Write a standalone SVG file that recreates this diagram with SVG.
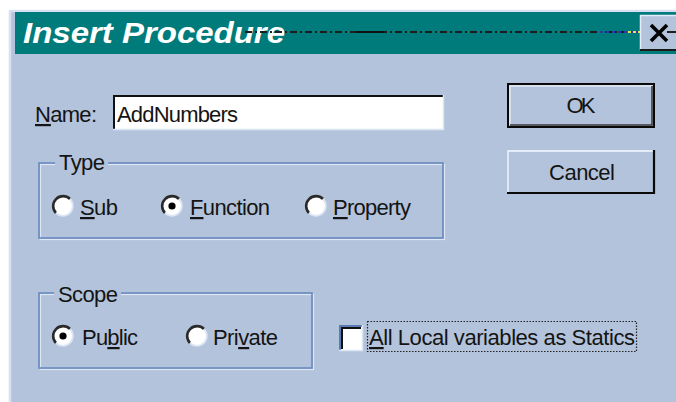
<svg xmlns="http://www.w3.org/2000/svg" xmlns:xlink="http://www.w3.org/1999/xlink" width="676" height="402" viewBox="0 0 676 402">
<style>
.lbl{font-family:"Liberation Sans",Arial,sans-serif;font-size:22px;fill:#141414}
.ul{text-decoration:underline}
.title{font-family:"Liberation Sans",Arial,sans-serif;font-size:30px;font-weight:bold;font-style:italic;fill:#ffffff}
.grp{fill:none;stroke:#6a89bf;stroke-width:1.6}
.grpl{fill:none;stroke:#dde7f5;stroke-width:1.2}
.face{fill:#b3c3db}
</style>
<defs>
<g id="radio">
<circle cx="0" cy="0" r="9.5" fill="#ffffff"/>
<path d="M -7 7 A 9.9 9.9 0 0 1 7 -7" fill="none" stroke="#2a2a2a" stroke-width="2.6"/>
<path d="M 7 -7 A 9.9 9.9 0 0 1 -7 7" fill="none" stroke="#dce6f4" stroke-width="1.8"/>
</g>
<circle id="dot" cx="0" cy="0" r="3.6" fill="#000000"/>
</defs>

<rect x="0" y="0" width="676" height="402" fill="#ffffff"/>
<g id="dialog">
<rect x="9" y="10" width="667" height="392" fill="#b3c3db"/>
<line x1="10" y1="10" x2="10" y2="402" stroke="#d6e0f0" stroke-width="2.5"/>
<line x1="9" y1="11" x2="676" y2="11" stroke="#d6e0f0" stroke-width="2.5"/>
</g>

<g id="titlebar">
<rect x="15" y="12" width="661" height="42" fill="#007b7b"/>
<text class="title" x="23" y="43" textLength="262" lengthAdjust="spacingAndGlyphs">Insert Procedure</text>
<line x1="245" y1="32" x2="676" y2="32" stroke="#1e1e1e" stroke-width="2" stroke-dasharray="7 3 2 3"/>
<line x1="356" y1="32" x2="384" y2="32" stroke="#111111" stroke-width="2"/>
<line x1="600" y1="32" x2="640" y2="32" stroke="#2a3aa0" stroke-width="2" stroke-dasharray="3 3"/>
<line x1="628" y1="32" x2="640" y2="32" stroke="#e8e050" stroke-width="2" stroke-dasharray="3 2"/>
</g>

<g id="close-button">
<rect x="640" y="15" width="36" height="35" fill="#b3c3db"/>
<line x1="640" y1="15.5" x2="676" y2="15.5" stroke="#e4ecf8" stroke-width="1.5"/>
<line x1="640.5" y1="15" x2="640.5" y2="50" stroke="#e4ecf8" stroke-width="1.5"/>
<line x1="640" y1="50" x2="676" y2="50" stroke="#1a1a1a" stroke-width="2"/>
<path d="M 651 25 L 667 41 M 667 25 L 651 41" stroke="#000000" stroke-width="3.6" fill="none"/>
<line x1="667" y1="32" x2="676" y2="32" stroke="#1e1e1e" stroke-width="2"/>
</g>

<g id="name-field">
<text class="lbl" x="35" y="122" textLength="62"><tspan class="ul">N</tspan>ame:</text>
<rect x="113" y="95" width="330" height="34" fill="#ffffff"/>
<path d="M 114 129 L 114 96 L 443 96" fill="none" stroke="#111111" stroke-width="2"/>
<path d="M 113 129.5 L 443.5 129.5 L 443.5 95" fill="none" stroke="#dce6f4" stroke-width="1.5"/>
<text class="lbl" x="117" y="122" textLength="121">AddNumbers</text>
</g>

<g id="ok-button">
<rect x="508" y="84" width="146" height="43" fill="#b3c3db" stroke="#0a0a0a" stroke-width="2"/>
<path d="M 510 125 L 510 86 L 652 86" fill="none" stroke="#e4ecf8" stroke-width="1.5"/>
<path d="M 510 125 L 652 125 L 652 86" fill="none" stroke="#3a3a3a" stroke-width="1.5"/>
<text class="lbl" x="581" y="113" text-anchor="middle" textLength="29">OK</text>
</g>

<g id="cancel-button">
<rect x="507" y="150" width="148" height="44" fill="#b3c3db"/>
<path d="M 508 193 L 508 151 L 654 151" fill="none" stroke="#e4ecf8" stroke-width="1.8"/>
<path d="M 507 193 L 654 193 L 654 150" fill="none" stroke="#0a0a0a" stroke-width="2.2"/>
<text class="lbl" x="582" y="180" text-anchor="middle" textLength="66">Cancel</text>
</g>

<g id="type-group">
<rect class="grpl" x="40.5" y="164.5" width="404" height="75"/>
<rect class="grp" x="39" y="163" width="404" height="75"/>
<rect class="face" x="55" y="154" width="53" height="16"/>
<text class="lbl" x="59" y="170" textLength="46">Type</text>
</g>

<g id="radio-sub">
<use xlink:href="#radio" x="63" y="206"/>
<text class="lbl" x="80" y="215" textLength="38"><tspan class="ul">S</tspan>ub</text>
</g>
<g id="radio-function">
<use xlink:href="#radio" x="172" y="206"/>
<use xlink:href="#dot" x="172" y="206"/>
<text class="lbl" x="190" y="215" textLength="80"><tspan class="ul">F</tspan>unction</text>
</g>
<g id="radio-property">
<use xlink:href="#radio" x="316" y="206"/>
<text class="lbl" x="333" y="215" textLength="78"><tspan class="ul">P</tspan>roperty</text>
</g>

<g id="scope-group">
<rect class="grpl" x="40.5" y="294.5" width="273" height="75"/>
<rect class="grp" x="39" y="293" width="273" height="75"/>
<rect class="face" x="54" y="284" width="67" height="16"/>
<text class="lbl" x="58" y="302" textLength="60">Scope</text>
</g>

<g id="radio-public">
<use xlink:href="#radio" x="63" y="336"/>
<use xlink:href="#dot" x="63" y="336"/>
<text class="lbl" x="82" y="345" textLength="56">Pu<tspan class="ul">b</tspan>lic</text>
</g>
<g id="radio-private">
<use xlink:href="#radio" x="197" y="336"/>
<text class="lbl" x="213" y="345" textLength="65">Pri<tspan class="ul">v</tspan>ate</text>
</g>

<g id="statics-checkbox">
<rect x="339" y="325" width="23" height="25" fill="#ffffff"/>
<path d="M 340 350 L 340 326 L 362 326" fill="none" stroke="#5a7ab2" stroke-width="2"/>
<path d="M 342 349 L 342 328 L 361 328" fill="none" stroke="#111111" stroke-width="2"/>
<path d="M 339 350.5 L 362.5 350.5 L 362.5 325" fill="none" stroke="#dce6f4" stroke-width="1.5"/>
<rect x="367.5" y="321.5" width="269" height="30" fill="none" stroke="#222222" stroke-width="1.2" stroke-dasharray="1.5 1.5"/>
<text class="lbl" x="369" y="345" textLength="266"><tspan class="ul">A</tspan>ll Local variables as Statics</text>
</g>
</svg>
